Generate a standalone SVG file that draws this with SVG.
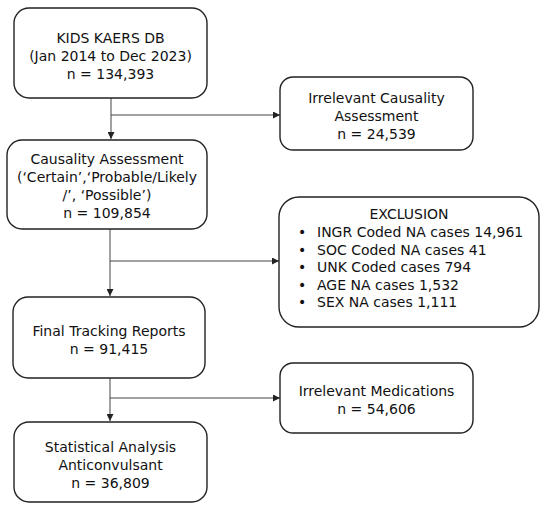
<svg xmlns="http://www.w3.org/2000/svg" width="550" height="510" viewBox="0 0 550 510">
<style>
.box{fill:#fff;stroke:#222;stroke-width:1.4}
.t{font-family:"DejaVu Sans",sans-serif;font-size:14px;fill:#111;text-anchor:middle}
.l{font-family:"DejaVu Sans",sans-serif;font-size:14px;fill:#111}
.c{fill:none;stroke:#444;stroke-width:1}
</style>
<defs>
<marker id="ah" viewBox="0 0 10 10" refX="10" refY="5" markerWidth="7" markerHeight="7" markerUnits="userSpaceOnUse" orient="auto">
<path d="M0,0 L10,5 L0,10 z" fill="#222"/>
</marker>
</defs>
<rect width="550" height="510" fill="#fff"/>
<g id="connectors">
<line class="c" x1="111" y1="98" x2="111" y2="139" marker-end="url(#ah)"/>
<line class="c" x1="111" y1="115" x2="280" y2="115" marker-end="url(#ah)"/>
<line class="c" x1="110" y1="229" x2="110" y2="296" marker-end="url(#ah)"/>
<line class="c" x1="110" y1="261" x2="279" y2="261" marker-end="url(#ah)"/>
<line class="c" x1="110" y1="378" x2="110" y2="421" marker-end="url(#ah)"/>
<line class="c" x1="110" y1="398" x2="280" y2="398" marker-end="url(#ah)"/>
</g>
<g id="n1">
<rect class="box" x="14" y="8" width="193" height="90" rx="15"/>
<text class="t" x="110.5" y="43">KIDS KAERS DB</text>
<text class="t" x="110.5" y="61">(Jan 2014 to Dec 2023)</text>
<text class="t" x="110.5" y="79">n = 134,393</text>
</g>
<g id="n2">
<rect class="box" x="280" y="77" width="193" height="73" rx="13"/>
<text class="t" x="376.5" y="103">Irrelevant Causality</text>
<text class="t" x="376.5" y="121">Assessment</text>
<text class="t" x="376.5" y="139">n = 24,539</text>
</g>
<g id="n3">
<rect class="box" x="7" y="140" width="200" height="89" rx="15"/>
<text class="t" x="107" y="164">Causality Assessment</text>
<text class="t" x="107" y="182">(‘Certain’,‘Probable/Likely</text>
<text class="t" x="107" y="200">/’, ‘Possible’)</text>
<text class="t" x="107" y="218">n = 109,854</text>
</g>
<g id="n4">
<rect class="box" x="279" y="197" width="260" height="130" rx="20"/>
<text class="t" x="409" y="219">EXCLUSION</text>
<text class="l" y="237"><tspan x="298">•</tspan><tspan x="317">INGR Coded NA cases 14,961</tspan></text>
<text class="l" y="254.5"><tspan x="298">•</tspan><tspan x="317">SOC Coded NA cases 41</tspan></text>
<text class="l" y="272"><tspan x="298">•</tspan><tspan x="317">UNK Coded cases 794</tspan></text>
<text class="l" y="289.5"><tspan x="298">•</tspan><tspan x="317">AGE NA cases 1,532</tspan></text>
<text class="l" y="307"><tspan x="298">•</tspan><tspan x="317">SEX NA cases 1,111</tspan></text>
</g>
<g id="n5">
<rect class="box" x="13" y="297" width="192" height="81" rx="15"/>
<text class="t" x="109" y="336">Final Tracking Reports</text>
<text class="t" x="109" y="354">n = 91,415</text>
</g>
<g id="n6">
<rect class="box" x="280" y="363" width="193" height="70" rx="13"/>
<text class="t" x="376.5" y="396">Irrelevant Medications</text>
<text class="t" x="376.5" y="414">n = 54,606</text>
</g>
<g id="n7">
<rect class="box" x="14" y="422" width="193" height="80" rx="15"/>
<text class="t" x="110.5" y="452">Statistical Analysis</text>
<text class="t" x="110.5" y="470">Anticonvulsant</text>
<text class="t" x="110.5" y="488">n = 36,809</text>
</g>
</svg>
